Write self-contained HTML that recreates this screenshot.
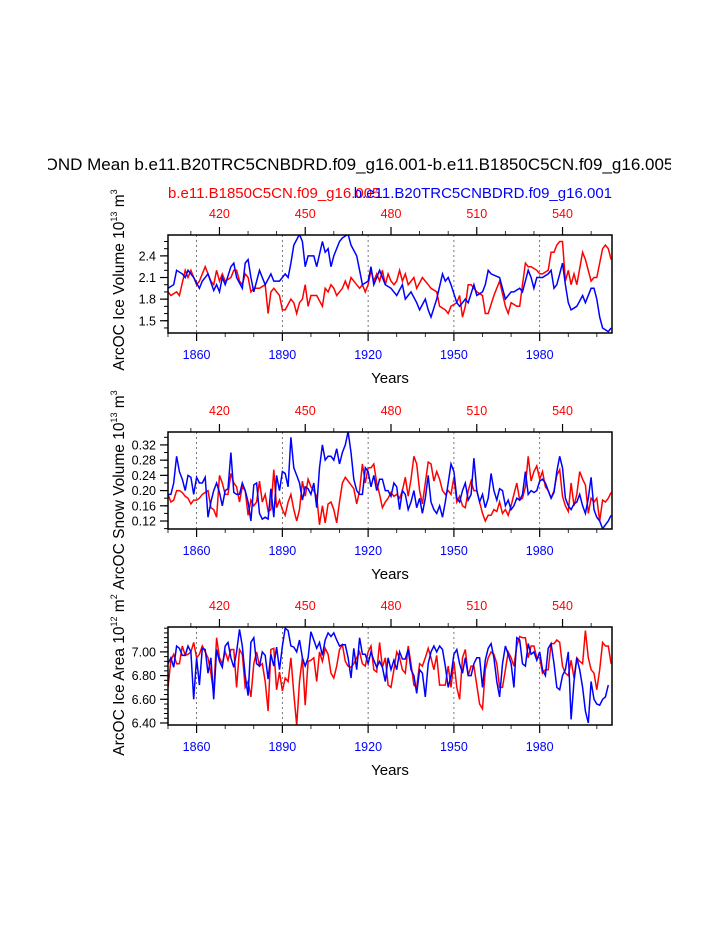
<!DOCTYPE html>
<html><head><meta charset="utf-8"><style>
body{margin:0;background:#fff}
svg{display:block;font-family:"Liberation Sans",Arial,sans-serif}
</style></head><body>
<svg id="chart" width="723" height="935" viewBox="0 0 723 935" xmlns="http://www.w3.org/2000/svg">
<defs><clipPath id="tclip"><rect x="48" y="140" width="623" height="40"/></clipPath></defs>
<text x="359" y="170" font-size="17" text-anchor="middle" clip-path="url(#tclip)">OND Mean b.e11.B20TRC5CNBDRD.f09_g16.001-b.e11.B1850C5CN.f09_g16.005</text>
<text x="168" y="198" font-size="15" fill="#ff0000">b.e11.B1850C5CN.f09_g16.005</text>
<text x="612" y="198" font-size="15" fill="#0000ff" text-anchor="end">b.e11.B20TRC5CNBDRD.f09_g16.001</text>
</svg>
<script>
// Panel 1: ice volume (sparse year/value pairs)
const p1BlueYears=[1850,1852,1853,1855,1856,1857,1859,1861,1862,1864,1866,1867,1868,1869,1870,1872,1873,1874,1876,1877,1878,1879,1880,1882,1883,1884,1886,1887,1889,1891,1892,1893,1894,1896,1897,1898,1899,1901,1902,1904,1905,1906,1907,1908,1910,1911,1913,1914,1916,1917,1918,1920,1921,1922,1924,1926,1928,1930,1932,1933,1935,1937,1938,1940,1941,1942,1944,1946,1947,1948,1949,1951,1952,1954,1955,1957,1958,1960,1961,1962,1963,1966,1968,1970,1971,1973,1974,1976,1977,1978,1979,1981,1983,1984,1985,1986,1987,1988,1989,1990,1991,1993,1995,1996,1998,1999,2000,2001,2002,2004,2005];
const p1BlueVals=[1.95,2.0,2.2,2.15,2.1,2.2,2.1,1.95,2.05,2.15,1.92,2.0,1.9,2.1,2.0,2.25,2.3,2.1,1.95,2.3,2.35,2.1,1.9,2.2,2.1,2.0,2.15,2.05,2.05,2.15,2.1,2.3,2.55,2.7,2.6,2.25,2.4,2.4,2.25,2.6,2.45,2.5,2.25,2.4,2.6,2.65,2.7,2.55,2.4,2.2,2.0,2.05,2.25,2.0,2.2,2.0,1.95,1.85,2.0,1.8,1.9,1.75,1.65,1.8,1.65,1.55,1.8,2.15,2.05,2.1,2.0,1.75,1.7,1.8,1.75,2.0,1.85,1.9,2.0,2.2,2.15,2.1,1.8,1.9,1.9,1.95,1.9,2.2,2.1,1.95,2.1,2.1,2.15,2.2,1.95,2.0,2.15,2.3,2.0,1.75,1.65,1.7,1.85,1.75,1.95,1.95,1.8,1.55,1.4,1.35,1.4];
const p1RedYears=[1850,1851,1853,1854,1856,1857,1858,1859,1860,1861,1863,1864,1865,1866,1867,1868,1869,1870,1872,1873,1874,1875,1876,1877,1878,1879,1880,1882,1884,1885,1886,1887,1889,1890,1891,1893,1894,1895,1896,1897,1898,1899,1900,1902,1904,1905,1906,1907,1908,1909,1911,1912,1913,1914,1915,1917,1918,1919,1920,1921,1922,1923,1924,1925,1926,1927,1928,1929,1930,1931,1932,1933,1934,1936,1937,1939,1940,1941,1942,1944,1945,1947,1948,1949,1951,1952,1953,1954,1955,1956,1957,1958,1960,1961,1962,1964,1966,1968,1969,1970,1972,1973,1974,1975,1976,1977,1979,1980,1981,1983,1984,1985,1986,1987,1988,1989,1990,1991,1992,1993,1995,1996,1998,1999,2000,2002,2003,2004,2005];
const p1RedVals=[1.9,1.85,1.9,1.85,2.2,2.1,2.2,2.1,2.0,2.05,2.25,2.15,2.05,2.0,2.2,2.05,2.15,2.05,2.1,2.2,2.2,2.05,2.0,2.15,2.1,1.9,1.95,1.95,2.0,1.6,1.9,1.95,1.85,1.65,1.65,1.8,1.75,1.6,1.75,1.8,2.0,1.7,1.85,1.85,1.7,1.95,1.9,2.0,1.95,1.85,1.95,2.05,1.95,2.1,2.05,1.95,2.0,1.9,2.0,2.2,2.05,2.15,2.05,2.2,2.0,2.15,2.05,2.0,2.05,2.2,2.05,2.15,2.0,2.1,1.95,2.1,2.05,2.0,1.95,1.9,1.7,1.65,1.6,1.7,1.75,1.85,1.55,1.7,2.0,2.0,1.95,1.9,1.85,1.6,1.6,1.85,2.05,1.7,1.6,1.75,1.7,1.7,2.0,2.3,2.25,2.25,2.2,2.15,2.15,2.2,2.45,2.45,2.55,2.6,2.6,2.05,2.2,2.0,2.15,2.0,2.45,2.35,2.05,2.1,2.1,2.5,2.55,2.5,2.35];
// Panel 2: snow volume, yearly from 1850
const p2Blue=[0.19,0.19,0.22,0.29,0.25,0.23,0.2,0.24,0.235,0.19,0.235,0.22,0.22,0.235,0.13,0.17,0.2,0.22,0.195,0.16,0.2,0.205,0.3,0.195,0.19,0.19,0.22,0.2,0.17,0.12,0.215,0.22,0.14,0.125,0.13,0.125,0.205,0.13,0.24,0.2,0.25,0.245,0.21,0.34,0.26,0.24,0.22,0.175,0.21,0.205,0.19,0.22,0.155,0.26,0.32,0.28,0.29,0.29,0.28,0.31,0.27,0.3,0.32,0.355,0.3,0.23,0.2,0.19,0.19,0.26,0.25,0.21,0.24,0.2,0.23,0.23,0.2,0.2,0.185,0.22,0.21,0.15,0.2,0.19,0.15,0.17,0.2,0.155,0.18,0.14,0.18,0.24,0.17,0.15,0.14,0.16,0.13,0.17,0.22,0.27,0.25,0.18,0.17,0.2,0.22,0.175,0.19,0.285,0.2,0.17,0.19,0.155,0.18,0.245,0.2,0.175,0.205,0.2,0.16,0.175,0.15,0.16,0.18,0.175,0.19,0.25,0.19,0.2,0.195,0.2,0.225,0.23,0.22,0.2,0.18,0.195,0.25,0.29,0.26,0.18,0.16,0.15,0.165,0.17,0.19,0.16,0.14,0.18,0.235,0.15,0.13,0.12,0.1,0.11,0.12,0.135];
const p2Red=[0.19,0.17,0.175,0.2,0.2,0.195,0.185,0.18,0.165,0.175,0.175,0.18,0.19,0.195,0.2,0.155,0.15,0.13,0.24,0.22,0.19,0.19,0.245,0.22,0.21,0.17,0.21,0.2,0.135,0.175,0.16,0.17,0.225,0.17,0.19,0.145,0.15,0.255,0.155,0.175,0.15,0.135,0.17,0.19,0.15,0.12,0.15,0.225,0.185,0.23,0.21,0.2,0.185,0.11,0.16,0.115,0.165,0.17,0.15,0.115,0.17,0.22,0.235,0.225,0.215,0.205,0.165,0.2,0.27,0.22,0.26,0.26,0.27,0.22,0.19,0.155,0.17,0.18,0.195,0.185,0.19,0.18,0.2,0.235,0.185,0.23,0.29,0.27,0.2,0.165,0.22,0.275,0.27,0.225,0.25,0.23,0.2,0.19,0.2,0.19,0.235,0.17,0.185,0.16,0.155,0.2,0.225,0.2,0.2,0.17,0.14,0.12,0.135,0.135,0.15,0.145,0.17,0.14,0.15,0.135,0.16,0.19,0.22,0.175,0.18,0.21,0.29,0.225,0.25,0.265,0.23,0.25,0.21,0.2,0.18,0.2,0.24,0.255,0.185,0.16,0.145,0.22,0.16,0.19,0.25,0.23,0.215,0.14,0.18,0.17,0.18,0.12,0.175,0.17,0.18,0.195];
// Panel 3: ice area, yearly from 1850
const p3Blue=[6.9,6.95,6.87,7.05,7.03,6.97,6.97,7.05,7.0,6.6,6.95,6.72,7.03,7.02,6.82,6.95,6.6,7.02,6.92,6.87,7.05,7.08,6.95,6.87,7.0,7.19,7.05,6.8,6.63,7.08,7.12,6.9,6.88,7.0,6.97,6.77,6.98,6.88,7.04,6.85,7.05,7.2,7.18,7.05,7.04,7.0,7.1,6.95,6.88,6.95,7.17,7.1,7.03,7.08,6.97,7.1,7.16,7.13,7.16,7.1,7.05,7.06,7.06,6.95,6.78,7.03,6.85,7.12,6.98,6.98,6.9,7.0,6.93,6.87,6.92,6.87,6.75,6.95,6.85,6.93,6.85,7.0,6.94,6.94,7.02,6.85,6.8,6.65,6.85,6.82,6.62,6.9,7.0,7.05,7.0,7.05,7.02,6.88,6.7,6.8,6.98,7.02,6.9,6.82,6.95,6.8,6.8,6.9,6.95,6.95,6.7,6.93,7.03,7.07,6.95,6.75,6.62,6.9,7.05,6.98,6.9,6.7,7.12,7.1,6.9,6.88,7.07,6.98,7.0,6.93,7.0,6.85,6.8,7.03,7.07,6.9,6.7,6.68,6.8,6.85,7.0,6.43,6.75,6.95,6.85,6.7,6.5,6.4,6.75,6.6,6.56,6.55,6.6,6.62,6.72];
const p3Red=[6.7,6.93,6.98,6.9,6.9,7.05,6.97,6.98,7.0,7.08,6.95,6.98,7.05,7.0,6.95,6.82,6.65,7.12,6.95,6.9,7.0,6.93,7.02,7.02,6.7,7.02,6.98,6.7,6.75,6.62,6.9,7.0,6.88,6.9,6.75,6.5,7.02,7.03,6.68,6.83,6.67,6.78,6.75,6.95,6.65,6.38,6.75,6.95,6.55,6.92,6.93,6.95,6.75,7.0,6.92,7.03,6.98,6.82,6.78,6.88,7.02,7.06,6.92,6.88,6.87,6.9,6.95,7.0,6.9,6.88,7.0,7.05,6.85,6.83,7.08,6.87,6.95,6.72,6.7,6.85,7.0,6.95,6.85,6.82,7.05,6.9,6.72,6.7,6.9,6.88,6.95,7.03,6.95,6.85,6.97,6.72,6.72,6.72,6.88,6.7,6.92,6.7,6.6,6.95,7.02,6.8,6.88,6.88,6.72,6.56,6.52,6.85,6.95,7.0,6.98,6.9,6.7,6.7,6.85,7.0,6.95,6.88,7.05,7.13,7.12,7.12,6.95,7.05,7.05,6.95,6.95,6.82,6.85,6.85,7.07,7.07,7.1,7.08,6.88,6.82,6.8,6.93,6.78,6.95,6.92,6.9,7.18,6.95,6.85,6.82,6.68,6.85,7.08,7.05,7.05,6.9];
const p1Ticks=["1.5","1.8","2.1","2.4"];
const p2Ticks=["0.12","0.16","0.20","0.24","0.28","0.32"];
const p3Ticks=["6.40","6.60","6.80","7.00"];
const bottomTicks=["1860","1890","1920","1950","1980"];
const topTicks=["420","450","480","510","540"];

const NS="http://www.w3.org/2000/svg";
const svg=document.getElementById('chart');
const X0=168,X1=612,YR0=1850,YR1=2005.3,OFFSET=1448;
function xs(yr){return X0+(yr-YR0)/(YR1-YR0)*(X1-X0);}
function mk(tag,attrs,parent){const e=document.createElementNS(NS,tag);for(const k in attrs)e.setAttribute(k,attrs[k]);(parent||svg).appendChild(e);return e;}
function seq(a){return a.map((v,i)=>YR0+i);}

function panel(cfg){
  const g=mk('g',{});
  
  
  const ys=v=>cfg.top+(cfg.vmax-v)/(cfg.vmax-cfg.vmin)*(cfg.bot-cfg.top);
  const clipId='c'+cfg.name;
  const cp=mk('clipPath',{id:clipId},g);mk('rect',{x:X0,y:cfg.top,width:X1-X0,height:cfg.bot-cfg.top},cp);
  bottomTicks.forEach(t=>{const x=xs(+t);const l=mk('line',{x1:x,x2:x,y1:cfg.top,y2:cfg.bot,stroke:'#555','stroke-width':0.8,'stroke-dasharray':'2,3'},g);
    
    });
  cfg.series.forEach(s=>{
    const d=s.years.map((y,i)=>(i?'L':'M')+xs(y).toFixed(1)+','+ys(s.vals[i]).toFixed(1)).join('');
    const p=mk('path',{d:d,fill:'none',stroke:s.color,'stroke-width':1.5,'clip-path':'url(#'+clipId+')'},g);
    
    
  });
  const box=mk('rect',{x:X0,y:cfg.top,width:X1-X0,height:cfg.bot-cfg.top,fill:'none',stroke:'#000','stroke-width':1.5},g);
  
  
  for(let v=Math.ceil(cfg.vmin/cfg.minor-1e-6)*cfg.minor;v<=cfg.vmax+1e-9;v+=cfg.minor){const y=ys(v);mk('line',{x1:X0-4,x2:X0,y1:y,y2:y,stroke:'#000','stroke-width':1},g);}
  cfg.ticks.forEach(t=>{const y=ys(+t);mk('line',{x1:X0-8,x2:X0,y1:y,y2:y,stroke:'#000','stroke-width':1.2},g);
    const tx=mk('text',{x:X0-12,y:y+4.5,'font-size':12.5,'text-anchor':'end'},g);tx.textContent=t;
    
    });
  for(let yr=1850;yr<=2005;yr+=10){const x=xs(yr);const major=(yr-1860)%30===0;mk('line',{x1:x,x2:x,y1:cfg.bot,y2:cfg.bot+(major?8:4),stroke:'#000','stroke-width':major?1.2:0.8},g);}
  bottomTicks.forEach(t=>{const tx=mk('text',{x:xs(+t),y:cfg.bot+26,'font-size':12.5,'text-anchor':'middle',fill:'#0000ff'},g);tx.textContent=t;
    
    });
  for(let r=410;r<=557;r+=10){const x=xs(r+OFFSET);const major=(r-420)%30===0;mk('line',{x1:x,x2:x,y1:cfg.top,y2:cfg.top-(major?8:4),stroke:'#000','stroke-width':major?1.2:0.8},g);}
  topTicks.forEach(t=>{const tx=mk('text',{x:xs(+t+OFFSET),y:cfg.top-17,'font-size':12.5,'text-anchor':'middle',fill:'#ff0000'},g);tx.textContent=t;
    
    });
  const xt=mk('text',{x:390,y:cfg.bot+50,'font-size':15,'text-anchor':'middle'},g);xt.textContent='Years';
  
  
  const yt=mk('text',{transform:'translate(124,'+cfg.ylc+') rotate(-90)','font-size':15.5,'text-anchor':'middle'},g);
  
  
  const t1=mk('tspan',{},yt);t1.textContent=cfg.ylab+' 10';
  const t2=mk('tspan',{dy:-7,'font-size':9},yt);t2.textContent=cfg.exp;
  const t3=mk('tspan',{dy:7},yt);t3.textContent=' m';
  const t4=mk('tspan',{dy:-7,'font-size':9},yt);t4.textContent=cfg.unit;
}
panel({name:'ice-volume-panel',top:235,bot:333,vmin:1.33,vmax:2.69,minor:0.1,ticks:p1Ticks,ylab:'ArcOC Ice Volume',exp:'13',unit:'3',ylc:280,
  series:[{name:'ice-volume-red',color:'#ff0000',years:p1RedYears,vals:p1RedVals},{name:'ice-volume-blue',color:'#0000ff',years:p1BlueYears,vals:p1BlueVals}]});
panel({name:'snow-volume-panel',top:432,bot:529,vmin:0.099,vmax:0.354,minor:0.02,ticks:p2Ticks,ylab:'ArcOC Snow Volume',exp:'13',unit:'3',ylc:490,
  series:[{name:'snow-volume-red',color:'#ff0000',years:seq(p2Red),vals:p2Red},{name:'snow-volume-blue',color:'#0000ff',years:seq(p2Blue),vals:p2Blue}]});
panel({name:'ice-area-panel',top:627,bot:725,vmin:6.383,vmax:7.21,minor:0.04,ticks:p3Ticks,ylab:'ArcOC Ice Area',exp:'12',unit:'2',ylc:675,
  series:[{name:'ice-area-red',color:'#ff0000',years:seq(p3Red),vals:p3Red},{name:'ice-area-blue',color:'#0000ff',years:seq(p3Blue),vals:p3Blue}]});
</script>
</body></html>
